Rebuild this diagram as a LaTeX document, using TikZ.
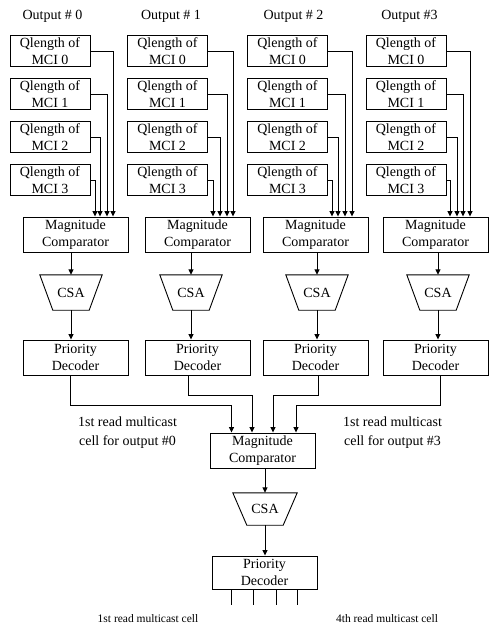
\documentclass[tikz,border=0pt]{standalone}
\usepackage{fontspec}
\setmainfont{Liberation Serif}
\usetikzlibrary{arrows.meta}

\tikzset{
  wire/.style={line width=0.9pt},
  arr/.style={wire, -{Triangle[length=5.5pt,width=5pt]}},
  blk/.style={draw, line width=0.9pt, inner sep=0pt, align=center,
              font=\fontsize{14}{16.5}\selectfont},
  qbox/.style={blk, minimum width=80pt, minimum height=31pt},
  mbox/.style={blk, minimum width=105pt, minimum height=35pt},
  csabox/.style={inner sep=0pt, minimum width=62pt, minimum height=35pt,
                 font=\fontsize{14}{16.5}\selectfont},
  lbl/.style={align=center, inner sep=0pt, font=\fontsize{14}{19}\selectfont},
  smalllbl/.style={inner sep=0pt, font=\fontsize{11.5}{14}\selectfont}
}

\begin{document}
\begin{tikzpicture}[x=1pt,y=-1pt]
\useasboundingbox (0,0) rectangle (494,632);

% column headings
\foreach \c/\tx/\t in {0/52.5/Output \# 0, 1/171/Output \# 1, 2/293.5/Output \# 2, 3/409.5/Output \#3}
  \node[lbl] (title\c) at (\tx,16) {\t};

% four columns: queue lengths, comparator, CSA, priority decoder
\foreach \c/\qx/\mx/\cx in {0/50/75.5/71, 1/167.5/197.5/191, 2/287.5/315.5/317, 3/406/435.5/438} {
  \foreach \r/\ry in {0/51, 1/94, 2/137, 3/180}
    \node[qbox] (q\c\r) at (\qx,\ry) {Qlength of\\MCI \r};
  \node[mbox] (m\c) at (\mx,234.5) {Magnitude\\Comparator};
  \node[csabox] (c\c) at (\cx,292.5) {CSA};
  \draw[wire] (c\c.north west) -- (c\c.north east)
     -- ([xshift=-13pt]c\c.south east) -- ([xshift=13pt]c\c.south west) -- cycle;
  \node[mbox] (p\c) at (\mx,357.5) {Priority\\Decoder};
  \draw[arr] (m\c.south -| c\c.north) -- (c\c.north);
  \draw[arr] (c\c.south) -- (c\c.south |- p\c.north);
}

% queue length wires into each comparator
\foreach \c/\a/\b/\d/\e in {0/37.5/31.5/24.5/19.5, 1/35.5/29.5/22.5/15.5, 2/36.5/29.5/22.5/16.5, 3/34.5/27.5/21.5/14.5} {
  \draw[arr] (q\c0.east) -| ([xshift=\a pt]m\c.north);
  \draw[arr] (q\c1.east) -| ([xshift=\b pt]m\c.north);
  \draw[arr] (q\c2.east) -| ([xshift=\d pt]m\c.north);
  \draw[arr] (q\c3.east) -| ([xshift=\e pt]m\c.north);
}

% final stage
\node[mbox] (fm) at (262.5,450.5) {Magnitude\\Comparator};
\node[csabox, minimum width=64pt, minimum height=32pt] (fc) at (265,509) {CSA};
\draw[wire] (fc.north west) -- (fc.north east)
   -- ([xshift=-14pt]fc.south east) -- ([xshift=14pt]fc.south west) -- cycle;
\node[mbox, minimum height=33pt] (fp) at (264.5,572.5) {Priority\\Decoder};
\draw[arr] (fm.south -| fc.north) -- (fc.north);
\draw[arr] (fc.south) -- (fc.south |- fp.north);

% decoder outputs into the final comparator
\draw[arr] ([xshift=-5.5pt]p0.south) -- ++(0,30) -| ([xshift=-31pt]fm.north);
\draw[arr] ([xshift=-9.5pt]p1.south) -- ++(0,20) -| ([xshift=-10.5pt]fm.north);
\draw[arr] ([xshift=2.5pt]p2.south) -- ++(0,20) -| ([xshift=10.5pt]fm.north);
\draw[arr] ([xshift=4.5pt]p3.south) -- ++(0,30) -| ([xshift=33.5pt]fm.north);

\node[lbl] (l0) at (127.5,432.5) {1st read multicast\\cell for output \#0};
\node[lbl] (l3) at (392.5,432.5) {1st read multicast\\cell for output \#3};

% output lines of the final decoder
\foreach \i/\ox in {1/231, 2/253, 3/276, 4/297} {
  \coordinate (o\i) at (\ox,605);
  \draw[wire] (fp.south -| o\i) -- (o\i);
}
\node[smalllbl] (b1) at (148,619) {1st read multicast cell};
\node[smalllbl] (b4) at (387,619) {4th read multicast cell};
\end{tikzpicture}
\end{document}
